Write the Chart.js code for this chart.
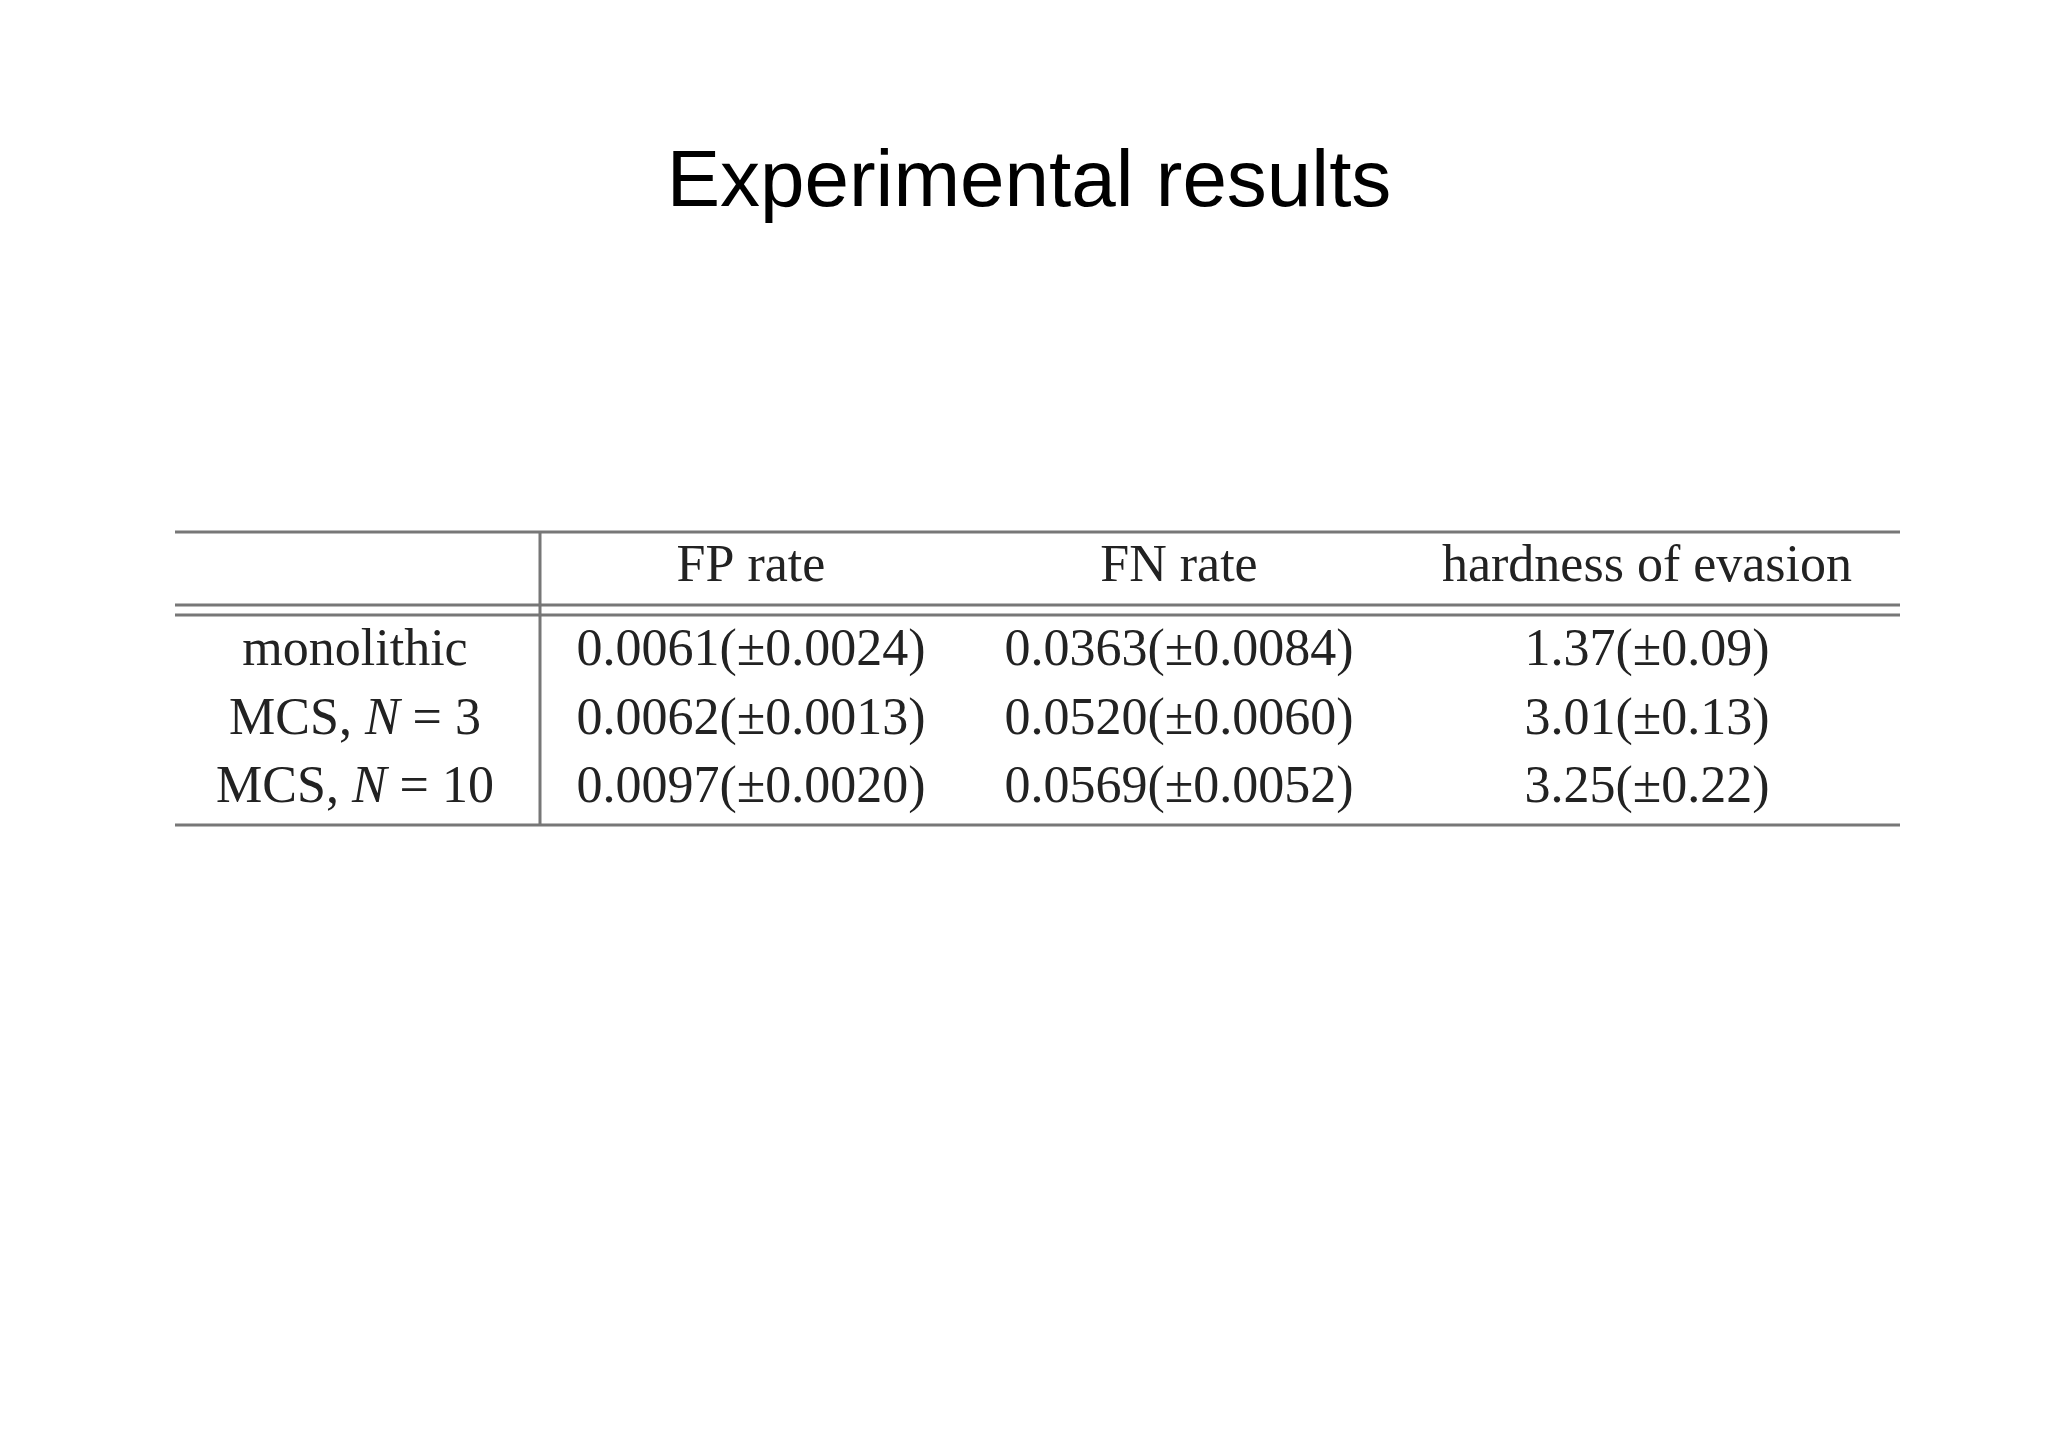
<!DOCTYPE html>
<html>
<head>
<meta charset="utf-8">
<script src="https://cdn.jsdelivr.net/npm/chart.js@4.4.0/dist/chart.umd.min.js"></script>
<style>
  html, body { margin: 0; padding: 0; background: #fff; }
  #wrap { width: 2048px; height: 1447px; }
</style>
</head>
<body>
<div id="wrap"><canvas id="tableChart"></canvas></div>
<script>
const title = "Experimental results";
const columns = ["", "FP rate", "FN rate", "hardness of evasion"];
const rowLabels = [["monolithic"], ["MCS, ", "N", " = 3"], ["MCS, ", "N", " = 10"]];
const fpRate = ["0.0061(±0.0024)", "0.0062(±0.0013)", "0.0097(±0.0020)"];
const fnRate = ["0.0363(±0.0084)", "0.0520(±0.0060)", "0.0569(±0.0052)"];
const hardness = ["1.37(±0.09)", "3.01(±0.13)", "3.25(±0.22)"];

// layout (page pixels)
const colCenters = [355, 751, 1179, 1647];
const rowY = [651, 720, 788];
const headerY = 567;
const tableLeft = 175, tableRight = 1900, divider = 540;
const rules = { top: 532, dbl1: 605, dbl2: 615, bottom: 825 };
const serif = "52px 'Liberation Serif', 'DejaVu Serif', serif";

const tablePlugin = {
  id: "tableDraw",
  afterDraw(chart) {
    const ctx = chart.ctx;
    const x = chart.scales.x, y = chart.scales.y;
    const px = v => x.getPixelForValue(v);
    const py = v => y.getPixelForValue(v);
    ctx.save();
    ctx.fillStyle = "#000";
    ctx.textBaseline = "middle";
    ctx.textAlign = "center";
    ctx.font = "80px 'Liberation Sans', Arial, sans-serif";
    ctx.fillText(title, px(1029), py(184));

    ctx.strokeStyle = "#777";
    ctx.lineWidth = 3;
    [rules.top, rules.dbl1, rules.dbl2, rules.bottom].forEach(r => {
      ctx.beginPath(); ctx.moveTo(px(tableLeft), py(r)); ctx.lineTo(px(tableRight), py(r)); ctx.stroke();
    });
    ctx.beginPath(); ctx.moveTo(px(divider), py(rules.top)); ctx.lineTo(px(divider), py(rules.bottom)); ctx.stroke();

    ctx.font = serif;
    ctx.fillStyle = "#222";
    columns.forEach((c, i) => ctx.fillText(c, px(colCenters[i]), py(headerY)));

    const cols = [fpRate, fnRate, hardness];
    rowY.forEach((ry, r) => {
      // row label with italic N
      const parts = rowLabels[r];
      const fonts = parts.map((p, k) => (k === 1 ? "italic " : "") + serif);
      let total = 0;
      parts.forEach((p, k) => { ctx.font = fonts[k]; total += ctx.measureText(p).width; });
      let cx = px(colCenters[0]) - total / 2;
      ctx.textAlign = "left";
      parts.forEach((p, k) => { ctx.font = fonts[k]; ctx.fillText(p, cx, py(ry)); cx += ctx.measureText(p).width; });
      ctx.textAlign = "center";
      ctx.font = serif;
      cols.forEach((col, i) => ctx.fillText(col[r], px(colCenters[i + 1]), py(ry)));
    });
    ctx.restore();
  }
};

new Chart(document.getElementById("tableChart"), {
  type: "scatter",
  data: { datasets: [{ data: [] }] },
  options: {
    responsive: true,
    maintainAspectRatio: false,
    animation: false,
    layout: { padding: 0 },
    plugins: { legend: { display: false }, tooltip: { enabled: false } },
    scales: {
      x: { type: "linear", min: 0, max: 2048, display: false },
      y: { type: "linear", min: 0, max: 1447, reverse: true, display: false }
    }
  },
  plugins: [tablePlugin]
});
</script>
</body>
</html>
